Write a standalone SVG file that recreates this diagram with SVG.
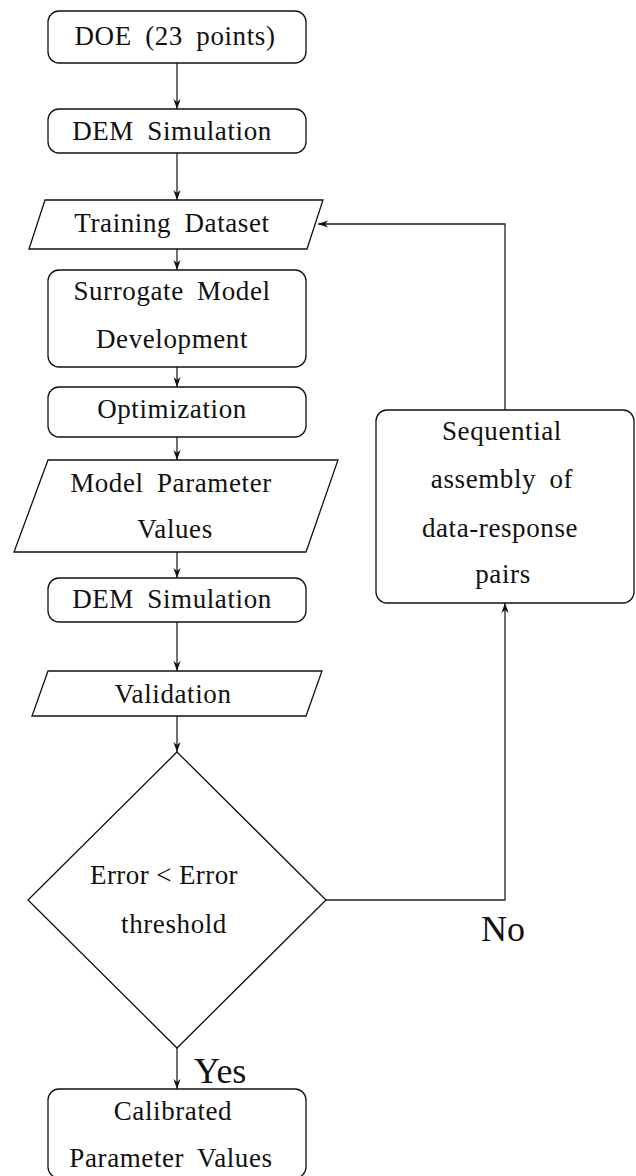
<svg xmlns="http://www.w3.org/2000/svg" width="636" height="1176" viewBox="0 0 636 1176">
  <defs>
    <marker id="arrow" viewBox="-11 -5 11 10" refX="0" refY="0" markerWidth="11" markerHeight="10" markerUnits="userSpaceOnUse" orient="auto">
      <path d="M0,0 L-10,-3.6 L-7,0 L-10,3.6 Z" fill="#111"/>
    </marker>
    <style>
      .shape { fill: #fff; stroke: #111; stroke-width: 1.3; }
      .edge { fill: none; stroke: #222; stroke-width: 1.3; }
      .lbl { font-size: 27px; fill: #111; text-anchor: middle; letter-spacing: 0.6px; word-spacing: 6px; }
      .big { font-size: 36px; fill: #111; }
    </style>
  </defs>
  <rect width="636" height="1176" fill="#fff"/>

  <g font-family="'Liberation Serif', 'Times New Roman', serif">
  <!-- connectors -->
  <g id="connectors">
    <path class="edge" d="M177,63 V109" marker-end="url(#arrow)"/>
    <path class="edge" d="M177,153 V200" marker-end="url(#arrow)"/>
    <path class="edge" d="M177,249 V270" marker-end="url(#arrow)"/>
    <path class="edge" d="M177,367 V387" marker-end="url(#arrow)"/>
    <path class="edge" d="M177,437 V460" marker-end="url(#arrow)"/>
    <path class="edge" d="M177,552 V578" marker-end="url(#arrow)"/>
    <path class="edge" d="M177,622 V671" marker-end="url(#arrow)"/>
    <path class="edge" d="M177,716 V752" marker-end="url(#arrow)"/>
    <path class="edge" d="M177,1048 V1089" marker-end="url(#arrow)"/>
    <path class="edge" d="M326,900 H505 V603" marker-end="url(#arrow)"/>
    <path class="edge" d="M505,410 V224 H318" marker-end="url(#arrow)"/>
    <text class="big" x="194" y="1083">Yes</text>
    <text class="big" x="481" y="941">No</text>
  </g>

  <g id="doe">
    <rect class="shape" x="48" y="11" width="258" height="52" rx="11"/>
    <text class="lbl" x="175" y="45">DOE (23 points)</text>
  </g>

  <g id="dem-sim-1">
    <rect class="shape" x="48" y="109" width="258" height="44" rx="11"/>
    <text class="lbl" x="172" y="140">DEM Simulation</text>
  </g>

  <g id="training-dataset">
    <polygon class="shape" points="45,200 323,200 307,249 29,249"/>
    <text class="lbl" x="172" y="232">Training Dataset</text>
  </g>

  <g id="surrogate">
    <rect class="shape" x="48" y="270" width="258" height="97" rx="11"/>
    <text class="lbl" x="172" y="300">Surrogate Model</text>
    <text class="lbl" x="172" y="348">Development</text>
  </g>

  <g id="optimization">
    <rect class="shape" x="48" y="387" width="258" height="50" rx="11"/>
    <text class="lbl" x="172" y="418">Optimization</text>
  </g>

  <g id="model-params">
    <polygon class="shape" points="48,460 338,460 306,552 14,552"/>
    <text class="lbl" x="171" y="492">Model Parameter</text>
    <text class="lbl" x="175" y="538">Values</text>
  </g>

  <g id="dem-sim-2">
    <rect class="shape" x="48" y="578" width="258" height="44" rx="11"/>
    <text class="lbl" x="172" y="608">DEM Simulation</text>
  </g>

  <g id="validation">
    <polygon class="shape" points="48,671 322,671 306,716 32,716"/>
    <text class="lbl" x="173" y="703">Validation</text>
  </g>

  <g id="decision">
    <polygon class="shape" points="177,752 326,900 177,1048 28,900"/>
    <text class="lbl" x="164" y="884" style="letter-spacing:0.4px;word-spacing:0">Error &lt; Error</text>
    <text class="lbl" x="174" y="933">threshold</text>
  </g>

  <g id="sequential">
    <rect class="shape" x="376" y="410" width="258" height="193" rx="11"/>
    <text class="lbl" x="502" y="440">Sequential</text>
    <text class="lbl" x="502" y="488">assembly of</text>
    <text class="lbl" x="500" y="537">data-response</text>
    <text class="lbl" x="503" y="583">pairs</text>
  </g>

  <g id="calibrated">
    <rect class="shape" x="48" y="1089" width="258" height="89" rx="11"/>
    <text class="lbl" x="173" y="1120">Calibrated</text>
    <text class="lbl" x="171" y="1167">Parameter Values</text>
  </g>
  </g>
</svg>
